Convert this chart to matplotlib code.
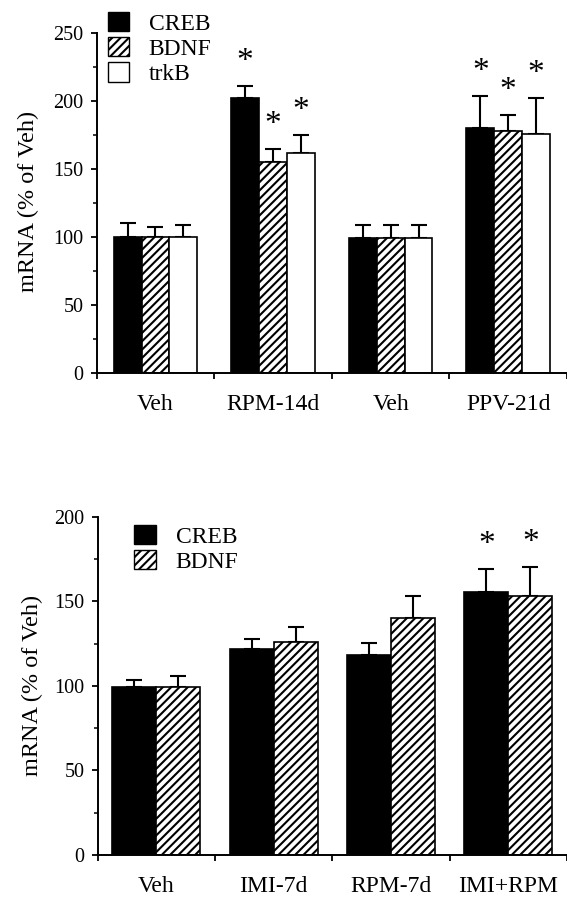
import numpy as np
import matplotlib.pyplot as plt
from matplotlib.patches import Patch

plt.rcParams['font.family'] = ['Liberation Serif', 'DejaVu Serif']
plt.rcParams['hatch.linewidth'] = 1.5

# top panel data (% of vehicle)
top_groups = ['Veh', 'RPM-14d', 'Veh', 'PPV-21d']
creb_top = [100, 202.5, 99, 180]
creb_top_err = [10.5, 8.5, 10, 24]
bdnf_top = [100, 155, 99, 178]
bdnf_top_err = [7, 9.5, 10, 11.5]
trkb_top = [100, 162, 99, 176]
trkb_top_err = [9, 13, 10, 26.5]
sig_top = [False, True, False, True]

# bottom panel data
bot_groups = ['Veh', 'IMI-7d', 'RPM-7d', 'IMI+RPM']
creb_bot = [99.5, 121.5, 118, 155.5]
creb_bot_err = [4, 6, 7.5, 13.5]
bdnf_bot = [99.5, 126, 140, 153]
bdnf_bot_err = [6.5, 9, 13, 17]
sig_bot = [False, False, False, True]

W, H = 567, 897
fig = plt.figure(figsize=(W / 100, H / 100), dpi=100)


def style_axis(ax, ymax, labels):
    ax.set_xlim(0, 4)
    ax.set_ylim(0, ymax)
    for s in ['top', 'right']:
        ax.spines[s].set_visible(False)
    for s in ['left', 'bottom']:
        ax.spines[s].set_linewidth(1.4)
    ax.set_yticks(np.arange(0, ymax + 1, 50))
    ax.set_yticks(np.arange(25, ymax, 50), minor=True)
    ax.tick_params(axis='y', which='major', length=4.5, width=1.3, pad=5, labelsize=14.5)
    ax.tick_params(axis='y', which='minor', length=3, width=1.1)
    ax.set_xticks(np.arange(5))
    ax.set_xticklabels([])
    ax.set_xticks(np.arange(4) + 0.5, labels, minor=True)
    ax.tick_params(axis='x', which='major', length=4, width=1.3)
    ax.tick_params(axis='x', which='minor', length=0, pad=15, labelsize=17)


def draw_series(ax, x, vals, errs, sig, w, color, hatch=None):
    ax.bar(x, vals, w, color=color, edgecolor='black', linewidth=1.2,
           hatch=hatch, zorder=2)
    ax.errorbar(x, vals, yerr=[np.zeros(len(vals)), errs], fmt='none',
                ecolor='black', elinewidth=1.5, capsize=6, capthick=1.5, zorder=1)
    for xi, v, e, s in zip(x, vals, errs, sig):
        if s:
            ax.annotate('*', (xi, v + e), xytext=(0, 17.5), textcoords='offset points',
                        ha='center', va='center', fontsize=24)


# ---- top panel ----
ax1 = fig.add_axes([96.7 / W, 1 - 372.7 / H, 470.3 / W, 339.4 / H])
style_axis(ax1, 250, top_groups)
c = np.arange(4) + 0.5
w = 0.237
draw_series(ax1, c - w, creb_top, creb_top_err, sig_top, w, 'black')
draw_series(ax1, c, bdnf_top, bdnf_top_err, sig_top, w, 'white', '////')
draw_series(ax1, c + w, trkb_top, trkb_top_err, sig_top, w, 'white')

h1 = [Patch(facecolor='black', edgecolor='black'),
      Patch(facecolor='white', edgecolor='black', hatch='////'),
      Patch(facecolor='white', edgecolor='black')]
fig.legend(h1, ['CREB', 'BDNF', 'trkB'], loc='upper left',
           bbox_to_anchor=(108 / W, 1 - 12 / H), frameon=False, fontsize=17,
           handlelength=0.88, handleheight=0.88, handletextpad=0.85,
           labelspacing=0.1, borderpad=0, borderaxespad=0)

fig.text(28 / W, 1 - 201 / H, 'mRNA (% of Veh)', rotation=90, ha='center',
         va='center', fontsize=17.5)

# ---- bottom panel ----
ax2 = fig.add_axes([97.6 / W, 1 - 855 / H, 469.4 / W, 338.3 / H])
style_axis(ax2, 200, bot_groups)
w = 0.375
draw_series(ax2, c - w / 2, creb_bot, creb_bot_err, sig_bot, w, 'black')
draw_series(ax2, c + w / 2, bdnf_bot, bdnf_bot_err, sig_bot, w, 'white', '////')

h2 = [Patch(facecolor='black', edgecolor='black'),
      Patch(facecolor='white', edgecolor='black', hatch='////')]
fig.legend(h2, ['CREB', 'BDNF'], loc='upper left',
           bbox_to_anchor=(134 / W, 1 - 525 / H), frameon=False, fontsize=17,
           handlelength=0.92, handleheight=0.88, handletextpad=0.85,
           labelspacing=0.1, borderpad=0, borderaxespad=0)

fig.text(32 / W, 1 - 685 / H, 'mRNA (% of Veh)', rotation=90, ha='center',
         va='center', fontsize=17.5)

fig.savefig('out.png', dpi=100)
